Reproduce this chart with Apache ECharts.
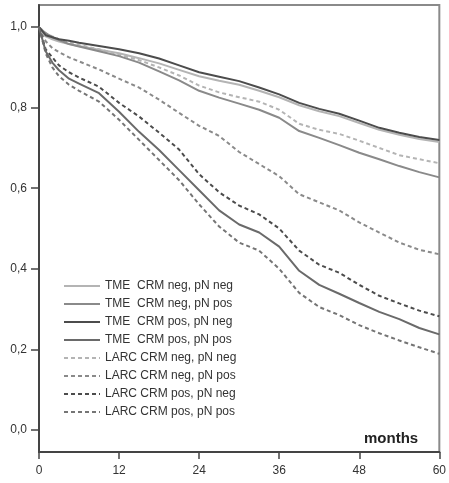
<!DOCTYPE html>
<html>
<head>
<meta charset="utf-8">
<script src="https://cdn.jsdelivr.net/npm/echarts@6/dist/echarts.min.js"></script>
<style>
  html, body { margin: 0; padding: 0; background: #fff; }
  #chart { width: 449px; height: 483px; }
</style>
</head>
<body>
<div id="chart"></div>
<script>
const months = [0, 1, 2, 3, 4.5, 6, 9, 12, 15, 18, 21, 24, 27, 30, 33, 36, 39, 42, 45, 48, 51, 54, 57, 60]
const xTicks = [0, 12, 24, 36, 48, 60]
const yTicks = [0, 0.2, 0.4, 0.6, 0.8, 1.0]

const names = [
  'TME  CRM neg, pN neg',
  'TME  CRM neg, pN pos',
  'TME  CRM pos, pN neg',
  'TME  CRM pos, pN pos',
  'LARC CRM neg, pN neg',
  'LARC CRM neg, pN pos',
  'LARC CRM pos, pN neg',
  'LARC CRM pos, pN pos'
]

const tmeNegNeg = [1.0, 0.977, 0.97, 0.964, 0.958, 0.953, 0.944, 0.935, 0.923, 0.91, 0.894, 0.878, 0.867, 0.857, 0.842, 0.826, 0.806, 0.791, 0.779, 0.762, 0.745, 0.733, 0.722, 0.715]
const tmeNegPos = [1.0, 0.985, 0.975, 0.968, 0.958, 0.952, 0.94, 0.928, 0.912, 0.89, 0.868, 0.842, 0.825, 0.81, 0.795, 0.775, 0.742, 0.725, 0.707, 0.688, 0.672, 0.655, 0.64, 0.627]
const tmePosNeg = [1.0, 0.98, 0.975, 0.97, 0.966, 0.961, 0.953, 0.945, 0.935, 0.922, 0.905, 0.888, 0.877, 0.866, 0.85, 0.833, 0.812, 0.797, 0.785, 0.768, 0.75, 0.738, 0.727, 0.72]
const tmePosPos = [1.0, 0.94, 0.912, 0.893, 0.872, 0.86, 0.836, 0.79, 0.74, 0.695, 0.645, 0.595, 0.545, 0.51, 0.49, 0.455, 0.395, 0.36, 0.338, 0.315, 0.293, 0.275, 0.253, 0.237]
const larcNegNeg = [1.0, 0.985, 0.977, 0.97, 0.962, 0.956, 0.945, 0.932, 0.918, 0.9, 0.88, 0.855, 0.838, 0.826, 0.815, 0.795, 0.76, 0.745, 0.735, 0.718, 0.7, 0.682, 0.672, 0.662]
const larcNegPos = [1.0, 0.965, 0.948, 0.938, 0.925, 0.915, 0.895, 0.872, 0.85, 0.82, 0.787, 0.755, 0.73, 0.69, 0.66, 0.63, 0.585, 0.565, 0.545, 0.515, 0.49, 0.465, 0.447, 0.436]
const larcPosNeg = [1.0, 0.945, 0.925, 0.905, 0.888, 0.875, 0.852, 0.812, 0.778, 0.738, 0.696, 0.635, 0.59, 0.557, 0.535, 0.5, 0.445, 0.41, 0.39, 0.36, 0.333, 0.314, 0.296, 0.282]
const larcPosPos = [1.0, 0.935, 0.9, 0.878, 0.857, 0.842, 0.815, 0.77, 0.72, 0.67, 0.62, 0.56, 0.505, 0.465, 0.445, 0.4, 0.34, 0.305, 0.285, 0.26, 0.24, 0.222, 0.205, 0.189]

const values = [tmeNegNeg, tmeNegPos, tmePosNeg, tmePosPos, larcNegNeg, larcNegPos, larcPosNeg, larcPosPos]
const colors = ['#b4b4b4', '#8a8a8a', '#4c4c4c', '#6a6a6a', '#b4b4b4', '#8a8a8a', '#4c4c4c', '#757575']
const dashed = [false, false, false, false, true, true, true, true]

const font = 'Liberation Sans'

const chart = echarts.init(document.getElementById('chart'))

const series = names.map((name, i) => ({
  name: name,
  type: 'line',
  symbol: 'none',
  z: dashed[i] ? 2 : 3,
  data: months.map((m, j) => [m, values[i][j]]),
  lineStyle: {
    color: colors[i],
    width: 2,
    type: dashed[i] ? [4, 3] : 'solid'
  },
  itemStyle: { color: colors[i] }
}))

const option = {
  animation: false,
  grid: {
    left: 39,
    right: 4,
    top: 5,
    bottom: 31,
    show: true,
    borderColor: '#8a8a8a',
    borderWidth: 2
  },
  legend: {
    orient: 'vertical',
    left: 63,
    top: 280,
    padding: 0,
    itemWidth: 36,
    itemHeight: 14,
    itemGap: 6,
    data: names,
    itemStyle: { opacity: 0 },
    textStyle: {
      fontFamily: font,
      fontSize: 12,
      color: '#333'
    }
  },
  graphic: [
    {
      type: 'text',
      left: 364,
      top: 431,
      style: {
        text: 'months',
        font: 'bold 15px "Liberation Sans"',
        fill: '#222'
      }
    }
  ],
  xAxis: {
    type: 'value',
    min: 0,
    max: 60,
    interval: 12,
    axisLine: { onZero: false, lineStyle: { color: '#444', width: 2 } },
    axisTick: { show: true, length: 7, lineStyle: { color: '#444', width: 1.5 } },
    axisLabel: {
      fontFamily: font,
      fontSize: 12,
      color: '#333',
      margin: 13,
      customValues: xTicks
    },
    splitLine: { show: false }
  },
  yAxis: {
    type: 'value',
    min: -0.055,
    max: 1.055,
    axisLine: { show: true, onZero: false, lineStyle: { color: '#444', width: 2 } },
    axisTick: { show: true, length: 8, customValues: yTicks, lineStyle: { color: '#444', width: 1.5 } },
    axisLabel: {
      fontFamily: font,
      fontSize: 12,
      color: '#333',
      margin: 12,
      customValues: yTicks,
      formatter: v => v.toFixed(1).replace('.', ',')
    },
    splitLine: { show: false }
  },
  series: series
}

chart.setOption(option)
</script>
</body>
</html>
